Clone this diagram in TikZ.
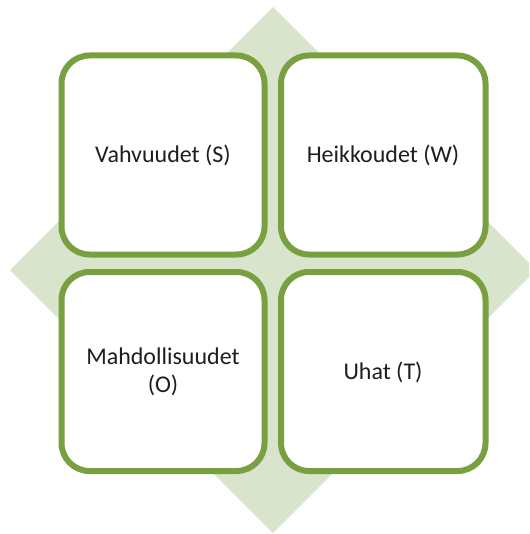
\documentclass[tikz,border=0pt]{standalone}
\usepackage{fontspec}
\setmainfont{Carlito}
\definecolor{swotgreen}{HTML}{78A040}
\definecolor{swotback}{HTML}{D8E4CB}
\definecolor{swottext}{HTML}{1E1E1E}
\begin{document}
\begin{tikzpicture}[x=1pt,y=-1pt,
  quad/.style={draw=swotgreen, line width=6pt, rounded corners=28pt, fill=white},
  label/.style={text=swottext, font=\fontsize{24}{28}\selectfont, align=center}]
\useasboundingbox (0,0) rectangle (529,534);
\begin{scope}
  \clip (0,0) rectangle (529,534);
  % background diamond
  \fill[swotback] (273,7) -- (536,270) -- (273,533) -- (10,270) -- cycle;
\end{scope}
% the four quadrants
\draw[quad] (61.5,55.5) rectangle (264.5,254.5);
\draw[quad] (281,55.5) rectangle (485.5,254.5);
\draw[quad] (61.5,272) rectangle (264.5,471);
\draw[quad] (281,272) rectangle (485.5,471);
\node[label] (s) at (163,155) {Vahvuudet (S)};
\node[label] (w) at (383,155) {Heikkoudet (W)};
\node[label] (o) at (163,372) {Mahdollisuudet\\(O)};
\node[label] (t) at (383,372) {Uhat (T)};
\end{tikzpicture}
\end{document}
